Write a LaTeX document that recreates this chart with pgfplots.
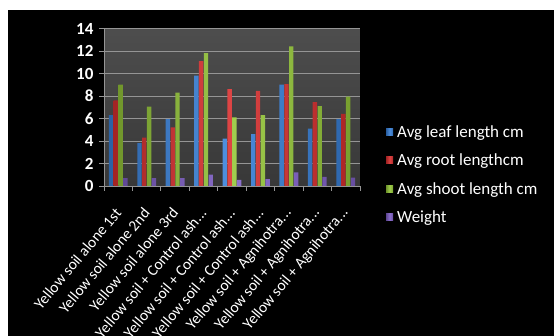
\documentclass[border=0pt]{standalone}
\usepackage{fontspec}
\setmainfont{Carlito}
\usepackage{pgfplots}
\pgfplotsset{compat=1.18}
\definecolor{cblue}{HTML}{3A82DA}
\definecolor{cred}{HTML}{DA3030}
\definecolor{cgreen}{HTML}{96C83A}
\definecolor{cpurple}{HTML}{8060C8}
\definecolor{plotbg}{HTML}{3E3E3E}
\definecolor{gridc}{HTML}{959595}
\newcommand{\dd}{.\kern0.2pt.\kern0.2pt.}
\begin{document}
\begin{tikzpicture}[x=1pt,y=1pt]
\fill[white] (0,0) rectangle (554,336);
\fill[black] (8,0) rectangle (554,326);
\begin{axis}[
  at={(104pt,150pt)}, anchor=south west,
  scale only axis, width=256pt, height=157.5pt,
  axis background/.style={top color=plotbg!92!white, bottom color=plotbg!90!black},
  xmin=-0.5, xmax=8.5, ymin=0, ymax=14,
  ytick={0,2,4,6,8,10,12,14},
  ymajorgrids, grid style={gridc, line width=0.8pt},
  axis lines*=left, axis line style={gridc, line width=0.8pt, -},
  tick align=outside, major tick length=5pt,
  tick style={gridc, line width=0.8pt},
  yticklabel style={text=white, font=\fontsize{17}{17}\selectfont\bfseries, xshift=-2pt},
  /pgf/number format/assume math mode=true,
  xtick={-0.5,0.5,1.5,2.5,3.5,4.5,5.5,6.5,7.5,8.5}, xticklabel=\empty,
  extra x ticks={0,1,2,3,4,5,6,7,8},
  extra x tick labels={{Yellow soil alone 1st},{Yellow soil alone 2nd},{Yellow soil alone 3rd},{Yellow soil + Control ash\dd},{Yellow soil + Control ash\dd},{Yellow soil + Control ash\dd},{Yellow soil + Agnihotra\dd},{Yellow soil + Agnihotra\dd},{Yellow soil + Agnihotra\dd}},
  extra x tick style={major tick length=0pt, grid=none,
    tick label style={xshift=0pt, yshift=-24pt, rotate=50, anchor=east, inner sep=0pt, text=white, font=\fontsize{15.5}{15.5}\selectfont}},
  ybar=0.4pt, bar width=4.4pt,
  legend style={at={(axis description cs:1.09,0.07)}, anchor=west, draw=none, fill=none,
    text=white, font=\fontsize{17}{17}\selectfont, row sep=11pt, legend cell align=left,
    nodes={inner xsep=4pt}},
  legend image code/.code={\fill[#1] (0pt,-3pt) rectangle (7pt,4pt);},
]
\addplot[draw=none, left color=cblue!75!black, right color=cblue!80!black, middle color=cblue!90!white] coordinates {(0,6.3) (1,3.8) (2,5.95) (3,9.8) (4,4.2) (5,4.6) (6,9.0) (7,5.1) (8,5.95)};
\addplot[draw=none, left color=cred!75!black, right color=cred!80!black, middle color=cred!90!white] coordinates {(0,7.6) (1,4.3) (2,5.2) (3,11.1) (4,8.6) (5,8.45) (6,9.05) (7,7.45) (8,6.4)};
\addplot[draw=none, left color=cgreen!75!black, right color=cgreen!80!black, middle color=cgreen!90!white] coordinates {(0,9.0) (1,7.05) (2,8.3) (3,11.8) (4,6.1) (5,6.3) (6,12.4) (7,7.1) (8,7.95)};
\addplot[draw=none, left color=cpurple!75!black, right color=cpurple!80!black, middle color=cpurple!90!white] coordinates {(0,0.7) (1,0.7) (2,0.7) (3,1.0) (4,0.55) (5,0.6) (6,1.2) (7,0.8) (8,0.75)};
\legend{Avg leaf length cm, Avg root lengthcm, Avg shoot length cm, Weight}
\end{axis}
\pgfresetboundingbox
\path (0,0) rectangle (554,336);
\end{tikzpicture}
\end{document}
